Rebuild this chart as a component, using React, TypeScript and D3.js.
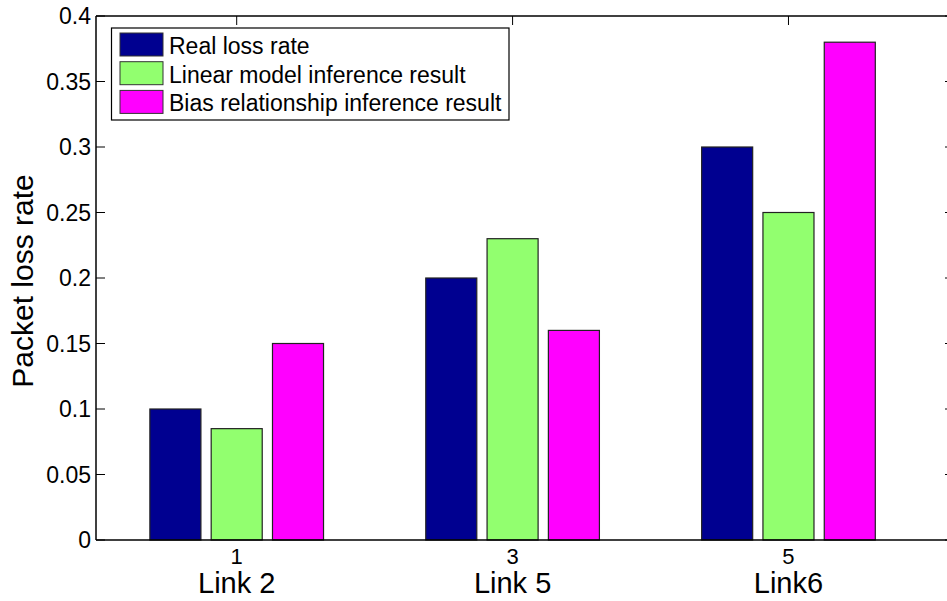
import React from "react";
import * as d3 from "d3";

const groups = [1, 3, 5];
const groupLabels = ["Link 2", "Link 5", "Link6"];
const seriesNames = [
  "Real loss rate",
  "Linear model inference result",
  "Bias relationship inference result",
];
const realLoss = [0.1, 0.2, 0.3];
const linearModel = [0.085, 0.23, 0.25];
const biasRelation = [0.15, 0.16, 0.38];
const yTicks = [0, 0.05, 0.1, 0.15, 0.2, 0.25, 0.3, 0.35, 0.4];
const colors = ["#000090", "#92FF6F", "#FF00FF"];

const W = 947;
const H = 601;
const left = 96;
const right = 954;
const top = 16;
const bottom = 540;
const font = "'Liberation Sans', Arial, sans-serif";

export default function App() {
  const x = d3.scaleLinear().domain([-0.02, 6.2]).range([left, right]);
  const y = d3.scaleLinear().domain([0, 0.4]).range([bottom, top]);
  const series = [realLoss, linearModel, biasRelation];
  const offset = 4 / 9;
  const barW = 0.37;
  const tickLen = 9;
  const fmt = (v: number) => (v === 0 ? "0" : String(+v.toFixed(2)));

  return (
    <svg
      width={W}
      height={H}
      style={{ position: "absolute", left: 0, top: 0, background: "#fff" }}
      fontFamily={font}
    >
      <rect x={0} y={0} width={W} height={H} fill="#fff" />
      {groups.map((g) => (
        <line key={"bt" + g} x1={x(g)} x2={x(g)} y1={bottom} y2={bottom - tickLen} stroke="#000" />
      ))}
      {series.map((s, si) =>
        s.map((v, gi) => {
          const c = groups[gi] + (si - 1) * offset;
          const x0 = x(c - barW / 2);
          const x1 = x(c + barW / 2);
          return (
            <rect
              key={`b${si}-${gi}`}
              x={x0}
              y={y(v)}
              width={x1 - x0}
              height={y(0) - y(v)}
              fill={colors[si]}
              stroke="#222"
              strokeWidth={1.2}
            />
          );
        })
      )}
      <line x1={left} x2={right} y1={bottom} y2={bottom} stroke="#000" strokeWidth={1.5} />
      <line x1={left} x2={right} y1={top} y2={top} stroke="#000" strokeWidth={1.5} />
      <line x1={left} x2={left} y1={top} y2={bottom} stroke="#000" strokeWidth={1.5} />
      <line x1={right} x2={right} y1={top} y2={bottom} stroke="#000" strokeWidth={1.5} />
      {yTicks.map((t) => (
        <g key={"yt" + t}>
          <line x1={left} x2={left + tickLen} y1={y(t)} y2={y(t)} stroke="#000" />
          <line x1={right} x2={right - tickLen} y1={y(t)} y2={y(t)} stroke="#000" />
          <text x={left - 5} y={y(t)} dy="0.35em" textAnchor="end" fontSize={23} fill="#000">
            {fmt(t)}
          </text>
        </g>
      ))}
      {groups.map((g) => (
        <line key={"tt" + g} x1={x(g)} x2={x(g)} y1={top} y2={top + tickLen} stroke="#000" />
      ))}
      {groups.map((g, i) => (
        <g key={"xl" + g}>
          <text x={x(g)} y={564} textAnchor="middle" fontSize={22} fill="#000">
            {String(g)}
          </text>
          <text x={x(g)} y={593} textAnchor="middle" fontSize={29} fill="#000">
            {groupLabels[i]}
          </text>
        </g>
      ))}
      <text
        transform={`translate(33, ${(top + bottom) / 2 + 3}) rotate(-90)`}
        textAnchor="middle"
        fontSize={30}
        fill="#000"
      >
        Packet loss rate
      </text>
      <rect x={111.5} y={28} width={397.5} height={92} fill="#fff" stroke="#000" strokeWidth={1.2} />
      {seriesNames.map((n, i) => (
        <g key={"lg" + i}>
          <rect x={120} y={33 + i * 28.7} width={43} height={23} fill={colors[i]} stroke="#333" strokeWidth={1} />
          <text x={169} y={54 + i * 28.7} fontSize={23} fill="#000">
            {n}
          </text>
        </g>
      ))}
    </svg>
  );
}
